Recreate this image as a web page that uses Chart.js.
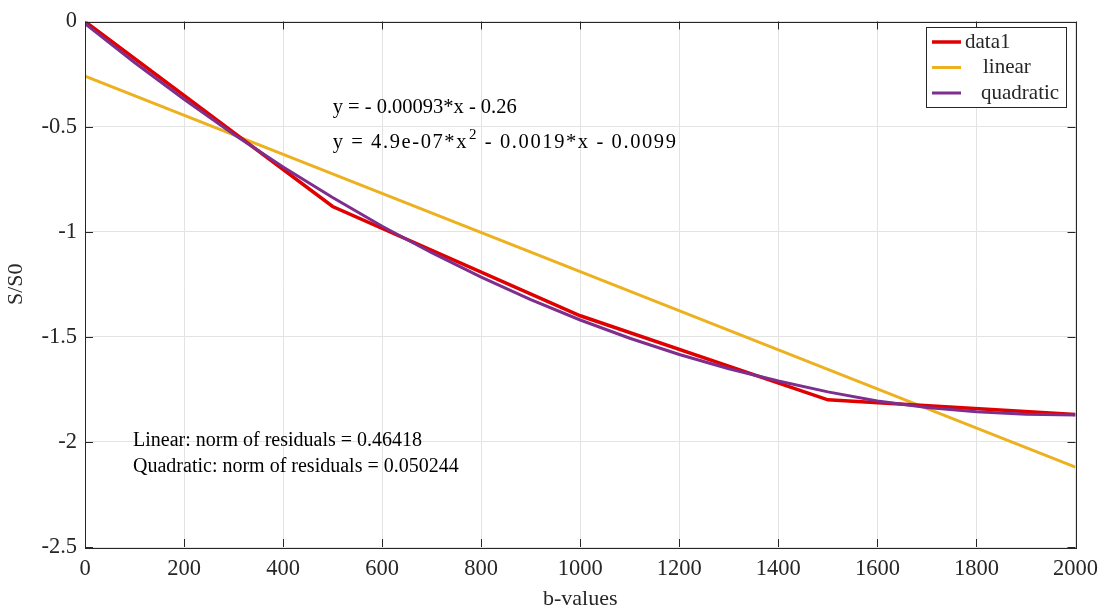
<!DOCTYPE html>
<html>
<head>
<meta charset="utf-8">
<script src="https://cdn.jsdelivr.net/npm/chart.js@4.4.1/dist/chart.umd.min.js"></script>
<style>
  html, body { margin: 0; padding: 0; background: #fff; }
  #wrap { width: 1107px; height: 612px; position: relative; }
</style>
</head>
<body>
<div id="wrap"><canvas id="fitChart"></canvas></div>
<script>
var bValues = [0, 500, 1000, 1500, 2000];
var signal = [0, -0.88, -1.40, -1.80, -1.87];

var linearX = [0, 2000];
var linearY = [-0.26, -2.12];

var quadX = [0, 100, 200, 300, 400, 500, 600, 700, 800, 900, 1000,
             1100, 1200, 1300, 1400, 1500, 1600, 1700, 1800, 1900, 2000];
var quadY = [-0.01, -0.195, -0.37, -0.536, -0.692, -0.837, -0.974, -1.10, -1.216, -1.323, -1.42,
             -1.507, -1.584, -1.652, -1.71, -1.762, -1.805, -1.836, -1.857, -1.868, -1.872];

var xTicks = [0, 200, 400, 600, 800, 1000, 1200, 1400, 1600, 1800, 2000];
var yTicks = [-2.5, -2, -1.5, -1, -0.5, 0];

var seriesNames = ['data1', 'linear', 'quadratic'];
var seriesColors = ['#e00000', '#edb120', '#7e2f8e'];

var eqLines = ['y = - 0.00093*x - 0.26', 'y = 4.9e-07*x', '2', ' - 0.0019*x - 0.0099'];
var normLines = ['Linear: norm of residuals = 0.46418', 'Quadratic: norm of residuals = 0.050244'];

var FONT = '"Liberation Serif", "Times New Roman", serif';
var TXT = '#262626';

function pairs(xs, ys) {
    return xs.map(function (x, i) { return { x: x, y: ys[i] }; });
}

// box, inward ticks, legend and annotation text
var matlabLook = {
    id: 'matlabLook',
    afterDatasetsDraw: function (chart) {
        var ctx = chart.ctx;
        var a = chart.chartArea;
        var sx = chart.scales.x;
        var sy = chart.scales.y;
        ctx.save();
        ctx.strokeStyle = TXT;
        ctx.lineWidth = 1;
        ctx.beginPath();
        xTicks.forEach(function (t) {
            var px = Math.round(sx.getPixelForValue(t)) + 0.5;
            ctx.moveTo(px, a.bottom); ctx.lineTo(px, a.bottom - 8);
            ctx.moveTo(px, a.top); ctx.lineTo(px, a.top + 8);
        });
        yTicks.forEach(function (t) {
            var py = Math.round(sy.getPixelForValue(t)) + 0.5;
            ctx.moveTo(a.left, py); ctx.lineTo(a.left + 8, py);
            ctx.moveTo(a.right, py); ctx.lineTo(a.right - 8, py);
        });
        ctx.stroke();
        ctx.strokeRect(Math.round(a.left) + 0.5, Math.round(a.top) + 0.5,
            Math.round(a.right - a.left), Math.round(a.bottom - a.top));

        // legend box
        var lx = 926, ly = 27, lw = 140, lh = 80;
        ctx.fillStyle = '#fff';
        ctx.fillRect(lx, ly, lw, lh);
        ctx.strokeRect(lx + 0.5, ly + 0.5, lw, lh);
        var textX = [965, 983, 981];
        ctx.font = '21px ' + FONT;
        ctx.textBaseline = 'middle';
        ctx.textAlign = 'left';
        for (var i = 0; i < 3; i++) {
            var y = ly + 15 + i * 25.5;
            ctx.strokeStyle = seriesColors[i];
            ctx.lineWidth = i === 0 ? 3.5 : 3;
            ctx.beginPath();
            ctx.moveTo(932, y); ctx.lineTo(961, y);
            ctx.stroke();
            ctx.fillStyle = TXT;
            ctx.fillText(seriesNames[i], textX[i], y);
        }

        // fit equations (second line is set looser in the original)
        ctx.fillStyle = '#000';
        ctx.font = '20.5px ' + FONT;
        var ex = sx.getPixelForValue(500);
        ctx.fillText(eqLines[0], ex, sy.getPixelForValue(-0.408));
        var e2y = sy.getPixelForValue(-0.578);
        ctx.letterSpacing = '1.6px';
        ctx.fillText(eqLines[1], ex, e2y);
        var w1 = ctx.measureText(eqLines[1]).width;
        ctx.font = '15px ' + FONT;
        ctx.fillText(eqLines[2], ex + w1 + 1, e2y - 8);
        var w2 = ctx.measureText(eqLines[2]).width;
        ctx.font = '20.5px ' + FONT;
        ctx.fillText(eqLines[3], ex + w1 + w2 + 1, e2y);
        ctx.letterSpacing = '0px';

        // norms of residuals
        ctx.font = '20px ' + FONT;
        var nx = sx.getPixelForValue(97);
        ctx.fillText(normLines[0], nx, sy.getPixelForValue(-1.995));
        ctx.fillText(normLines[1], nx, sy.getPixelForValue(-2.118));
        ctx.restore();
    }
};

var ctx = document.getElementById('fitChart').getContext('2d');
new Chart(ctx, {
    type: 'scatter',
    data: {
        datasets: [{
            label: seriesNames[0],
            data: pairs(bValues, signal),
            showLine: true,
            borderColor: seriesColors[0],
            borderWidth: 3.5,
            pointRadius: 0,
            order: 1
        }, {
            label: seriesNames[1],
            data: pairs(linearX, linearY),
            showLine: true,
            borderColor: seriesColors[1],
            borderWidth: 3,
            pointRadius: 0,
            order: 2
        }, {
            label: seriesNames[2],
            data: pairs(quadX, quadY),
            showLine: true,
            borderColor: seriesColors[2],
            borderWidth: 3,
            pointRadius: 0,
            order: 0
        }]
    },
    options: {
        responsive: true,
        maintainAspectRatio: false,
        animation: false,
        layout: { padding: { top: 17, right: 30, left: 0, bottom: 0 } },
        plugins: {
            legend: { display: false },
            tooltip: { enabled: false }
        },
        scales: {
            x: {
                type: 'linear',
                min: 0,
                max: 2000,
                afterBuildTicks: function (scale) {
                    scale.ticks = xTicks.map(function (v) { return { value: v }; });
                },
                afterFit: function (scale) { scale.height = 65; },
                grid: { color: '#e3e3e3', drawTicks: false },
                border: { display: false },
                ticks: {
                    color: TXT,
                    padding: 9,
                    font: { family: FONT, size: 22.5 },
                    maxRotation: 0,
                    callback: function (v) { return String(v); }
                },
                title: {
                    display: true,
                    text: 'b-values',
                    color: TXT,
                    padding: 0,
                    font: { family: FONT, size: 22 }
                }
            },
            y: {
                type: 'linear',
                min: -2.5,
                max: 0,
                afterBuildTicks: function (scale) {
                    scale.ticks = yTicks.map(function (v) { return { value: v }; });
                },
                afterFit: function (scale) { scale.width = 85; },
                grid: { color: '#e3e3e3', drawTicks: false },
                border: { display: false },
                ticks: {
                    color: TXT,
                    padding: 8,
                    font: { family: FONT, size: 22.5 },
                    callback: function (v) { return String(v); }
                },
                title: {
                    display: true,
                    text: 'S/S0',
                    color: TXT,
                    padding: { top: 3, bottom: 0 },
                    font: { family: FONT, size: 22 }
                }
            }
        }
    },
    plugins: [matlabLook]
});
</script>
</body>
</html>
